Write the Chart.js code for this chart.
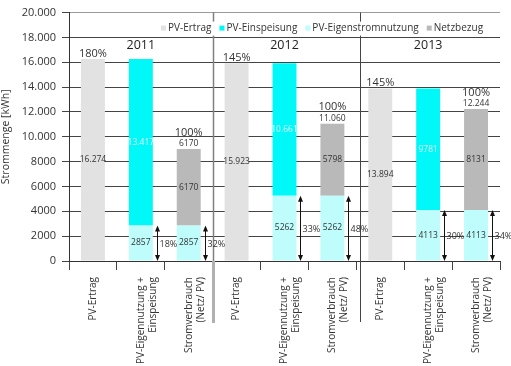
<!DOCTYPE html>
<html>
<head>
<meta charset="utf-8">
<script src="https://cdn.jsdelivr.net/npm/chart.js@4/dist/chart.umd.min.js"></script>
<style>
html, body { margin: 0; padding: 0; background: #fff; }
#wrap { width: 511px; height: 366px; }
</style>
</head>
<body>
<div id="wrap"><canvas id="energyChart" width="511" height="366"></canvas></div>
<script>
// Values
const years = ['2011', '2012', '2013'];
const barTypes = ['PV-Ertrag', ['PV-Eigennutzung +', 'Einspeisung'], ['Stromverbrauch', '(Netz/ PV)']];
const categories = years.flatMap(() => barTypes);

const pvErtrag    = [16274, null, null, 15923, null, null, 13894, null, null];
const eigenstrom  = [null, 2857, 2857, null, 5262, 5262, null, 4113, 4113];
const einspeisung = [null, 13417, null, null, 10661, null, null, 9781, null];
const netzbezug   = [null, null, 6170, null, null, 5798, null, null, 8131];

const topPercent   = ['180%', null, '100%', '145%', null, '100%', '145%', null, '100%'];
const topValue     = [null, null, 6170, null, null, 11060, null, null, 12244];
const eigenPercent = [null, '18%', '32%', null, '33%', '48%', null, '30%', '34%'];

const yMin = 0, yMax = 20000, yStep = 1000;

const colors = {
    ertrag: '#e2e2e2',
    einspeisung: '#00f8f8',
    eigen: '#bffcfc',
    netz: '#b9b9b9'
};

const FONT = "'Open Sans', sans-serif";
Chart.defaults.font.family = FONT;
Chart.defaults.color = '#333';

// 16274 -> "16.274", 8131 -> "8131"
function fmt(v) {
    const s = String(v);
    if (v < 10000) return s;
    return s.replace(/\B(?=(\d{3})+(?!\d))/g, '.');
}

// Labels, arrows, group dividers and legend
const decorations = {
    id: 'decorations',
    afterDatasetsDraw(chart) {
        const ctx = chart.ctx;
        const area = chart.chartArea;
        const xs = chart.scales.x;
        const ys = chart.scales.y;
        const metas = chart.data.datasets.map((d, i) => chart.getDatasetMeta(i));
        ctx.save();

        // values inside the bars
        ctx.textAlign = 'center';
        ctx.textBaseline = 'middle';
        ctx.font = '8.5px ' + FONT;
        chart.data.datasets.forEach((ds, i) => {
            ds.data.forEach((v, j) => {
                if (v == null) return;
                const bar = metas[i].data[j];
                ctx.fillStyle = ds.innerLabelColor;
                ctx.fillText(fmt(v), bar.x, (bar.y + bar.base) / 2);
            });
        });

        // labels above the bars
        categories.forEach((c, j) => {
            let top = Infinity, cx = 0;
            chart.data.datasets.forEach((ds, i) => {
                if (ds.data[j] == null) return;
                const bar = metas[i].data[j];
                cx = bar.x;
                top = Math.min(top, bar.y);
            });
            ctx.fillStyle = '#333';
            if (topValue[j] != null) {
                ctx.font = '8.5px ' + FONT;
                ctx.fillText(fmt(topValue[j]), cx, top - 5.5);
                ctx.font = '11px ' + FONT;
                ctx.fillText(topPercent[j], cx, top - 16.5);
            } else if (topPercent[j]) {
                ctx.font = '11px ' + FONT;
                ctx.fillText(topPercent[j], cx, top - 5.5);
            }
        });

        // dividers between the years
        const bound = k => (xs.getPixelForValue(k) + xs.getPixelForValue(k + 1)) / 2;
        const d1 = Math.round(bound(2)) + 0.5;
        ctx.strokeStyle = '#808080';
        ctx.lineWidth = 1.5;
        ctx.beginPath();
        ctx.moveTo(d1, area.top);
        ctx.lineTo(d1, area.bottom);
        ctx.stroke();
        ctx.strokeStyle = '#b0b0b0';
        ctx.lineWidth = 3;
        ctx.beginPath();
        ctx.moveTo(d1, area.bottom);
        ctx.lineTo(d1, area.bottom + 62);
        ctx.stroke();
        const d2 = Math.round(bound(5)) + 4.5;
        ctx.strokeStyle = '#444';
        ctx.lineWidth = 1;
        ctx.beginPath();
        ctx.moveTo(d2, area.top);
        ctx.lineTo(d2, area.bottom + 61);
        ctx.stroke();

        // double arrows for the own-consumption share
        const eigenMeta = metas[1];
        const y0 = ys.getPixelForValue(0);
        ctx.strokeStyle = '#111';
        ctx.lineWidth = 1;
        eigenPercent.forEach((p, j) => {
            if (!p) return;
            const bar = eigenMeta.data[j];
            const ax = Math.round(bar.x + bar.width / 2 + 4) + 0.5;
            const yt = bar.y;
            ctx.beginPath();
            ctx.moveTo(ax, yt + 2);
            ctx.lineTo(ax, y0 - 2);
            ctx.stroke();
            ctx.fillStyle = '#111';
            ctx.beginPath();
            ctx.moveTo(ax, yt);
            ctx.lineTo(ax - 2.5, yt + 6);
            ctx.lineTo(ax + 2.5, yt + 6);
            ctx.closePath();
            ctx.fill();
            ctx.beginPath();
            ctx.moveTo(ax, y0);
            ctx.lineTo(ax - 2.5, y0 - 6);
            ctx.lineTo(ax + 2.5, y0 - 6);
            ctx.closePath();
            ctx.fill();
            ctx.fillStyle = '#333';
            ctx.textAlign = 'left';
            ctx.font = '9px ' + FONT;
            ctx.fillText(p, ax + 2, (yt + y0) / 2 + 1);
            ctx.textAlign = 'center';
        });

        // year titles
        ctx.fillStyle = '#222';
        ctx.font = '12.5px ' + FONT;
        years.forEach((yr, g) => {
            const left = g === 0 ? area.left : bound(g * 3 - 1);
            ctx.fillText(yr, (left + bound(g * 3 + 2)) / 2, area.top + 33);
        });

        // legend
        const items = chart.data.datasets.slice().sort((a, b) => a.legendOrder - b.legendOrder);
        ctx.font = '10px ' + FONT;
        const ly = area.top + 16;
        let lx = 161;
        ctx.fillStyle = '#fff';
        ctx.fillRect(155, ly - 7, 333, 14);
        ctx.textAlign = 'left';
        items.forEach(ds => {
            ctx.fillStyle = ds.backgroundColor;
            ctx.fillRect(lx, ly - 3, 5, 5);
            lx += 7;
            ctx.fillStyle = '#333';
            ctx.fillText(ds.label, lx, ly);
            lx += ctx.measureText(ds.label).width + 8;
        });
        ctx.restore();
    }
};

new Chart(document.getElementById('energyChart'), {
    type: 'bar',
    data: {
        labels: categories,
        datasets: [
            { label: 'PV-Ertrag', data: pvErtrag, backgroundColor: colors.ertrag, innerLabelColor: '#333', legendOrder: 0 },
            { label: 'PV-Eigenstromnutzung', data: eigenstrom, backgroundColor: colors.eigen, innerLabelColor: '#333', legendOrder: 2 },
            { label: 'PV-Einspeisung', data: einspeisung, backgroundColor: colors.einspeisung, innerLabelColor: '#dcffff', legendOrder: 1 },
            { label: 'Netzbezug', data: netzbezug, backgroundColor: colors.netz, innerLabelColor: '#333', legendOrder: 3 }
        ]
    },
    options: {
        responsive: false,
        animation: false,
        datasets: { bar: { barPercentage: 0.5, categoryPercentage: 1, skipNull: false } },
        layout: { padding: { left: 0, top: 7, right: 11, bottom: 0 } },
        plugins: {
            legend: { display: false },
            tooltip: { enabled: false }
        },
        scales: {
            x: {
                stacked: true,
                grid: { display: true, drawOnChartArea: false, offset: true, tickLength: 9, color: '#444' },
                border: { display: true, color: '#333' },
                ticks: {
                    autoSkip: false, minRotation: 90, maxRotation: 90, padding: 7,
                    font: { size: 10 }, color: '#333'
                },
                afterFit: scale => { scale.height = 105; }
            },
            y: {
                stacked: true,
                min: yMin,
                max: yMax,
                grid: {
                    color: c => c.tick.value % 2000 ? 'transparent' : (c.tick.value === yMax ? '#9a9a9a' : '#444'),
                    tickColor: '#444',
                    tickLength: 7
                },
                border: { display: true, color: '#333' },
                ticks: {
                    stepSize: yStep,
                    padding: 6,
                    font: { size: 11 },
                    color: '#333',
                    callback: v => v % 2000 ? '' : fmt(v)
                },
                title: { display: true, text: 'Strommenge [kWh]', font: { size: 10.5 }, color: '#333', padding: { top: 0, bottom: 0 } },
                afterFit: scale => { scale.width = 69; }
            }
        }
    },
    plugins: [decorations]
});
</script>
</body>
</html>
